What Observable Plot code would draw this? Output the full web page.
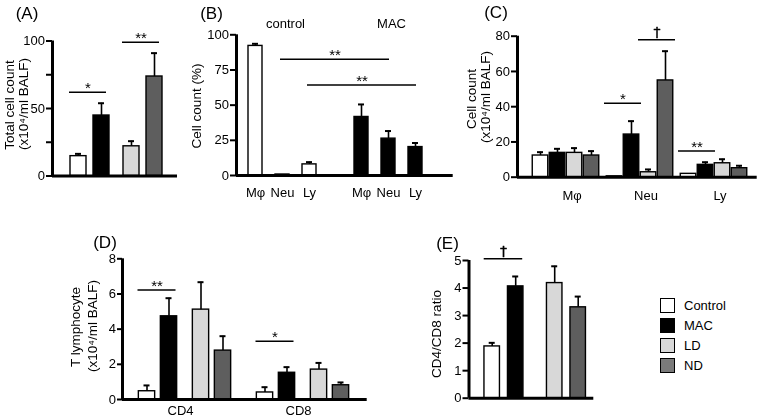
<!DOCTYPE html>
<html>
<head>
<meta charset="utf-8">
<script src="https://cdn.jsdelivr.net/npm/d3@7"></script>
<script src="https://cdn.jsdelivr.net/npm/@observablehq/plot@0.6"></script>
<style>
  html, body { margin: 0; padding: 0; background: #fff; }
  #fig { position: relative; width: 761px; height: 418px; overflow: hidden; background: #fff;
         font-family: "Liberation Sans", Arial, Helvetica, sans-serif; color: #000; }
  #fig svg { will-change: transform; }
  .letter { position: absolute; font-size: 17px; transform: translate(-50%, -50%); white-space: nowrap; }
  .ytitle { position: absolute; font-size: 13.5px; white-space: nowrap; line-height: 1;
            transform: translate(-50%, -50%) rotate(-90deg); }
  #legend { position: absolute; left: 660px; top: 295px; font-size: 13px; }
  #legend .row { display: flex; align-items: center; height: 20px; }
  #legend .sw { width: 13px; height: 13px; border: 1.6px solid #000; margin-right: 9px; }
  svg text.dag { fill: #000 !important; }
</style>
</head>
<body>
<div id="fig"></div>
<script>
// ---------------- data ----------------
const groups = ["Control", "MAC", "LD", "ND"];
const groupColors = ["#ffffff", "#000000", "#d8d8d8", "#5e5e5e"];
const legendColors = ["#ffffff", "#000000", "#d8d8d8", "#7a7a7a"];

// (A) total cell count (x10^4/ml BALF)
const totalMean = [14.7, 44.8, 22.0, 73.7];
const totalSem  = [1.7, 9.1, 3.8, 17.3];
const sigA = [["Control", "MAC", 62, "*"], ["LD", "ND", 99, "**"]];

// (B) cell count (%)
const cellTypes = ["Mφ", "Neu", "Ly"];
const pctGroups = ["control", "MAC"];
const pctControl    = [92.1, 0.7, 7.9];
const pctControlSem = [1.5, 0.0, 1.6];
const pctMac        = [41.6, 26.2, 20.2];
const pctMacSem     = [8.9, 5.4, 2.9];
const sigB = [["Neu", 82.6, "**"], ["Ly", 64.3, "**"]];

// (C) cell count (x10^4/ml BALF), per cell type
const cControl = [12.3, 0.5, 1.9];
const cControlSem = [1.9, 0.0, 0.0];
const cMac = [13.8, 24.2, 7.0];
const cMacSem = [2.3, 7.6, 1.5];
const cLd = [13.8, 2.8, 7.9];
const cLdSem = [2.7, 1.6, 2.3];
const cNd = [12.3, 54.9, 5.1];
const cNdSem = [2.5, 16.6, 1.4];
const sigC = [["Neu", "Control", "MAC", 42, "*"], ["Neu", "LD", "ND", 78, "\u2020"], ["Ly", "Control", "MAC", 14.8, "**"]];

// (D) T lymphocyte (x10^4/ml BALF)
const tTypes = ["CD4", "CD8"];
const tControl = [0.47, 0.40];
const tControlSem = [0.33, 0.30];
const tMac = [4.73, 1.52];
const tMacSem = [1.03, 0.32];
const tLd = [5.11, 1.70];
const tLdSem = [1.56, 0.38];
const tNd = [2.78, 0.81];
const tNdSem = [0.82, 0.16];
const sigD = [["CD4", "Control", "MAC", 6.23, "**"], ["CD8", "Control", "MAC", 3.31, "*"]];

// (E) CD4/CD8 ratio
const ratioMean = [1.88, 4.06, 4.18, 3.30];
const ratioSem  = [0.13, 0.36, 0.61, 0.39];
const sigE = [["Control", "MAC", 5.06, "\u2020"]];

// axis titles and panel letters
const yTitles = [
  ["Total cell count", 10, 105], ["(x10⁴/ml BALF)", 23.5, 104],
  ["Cell count (%)", 197, 106],
  ["Cell count", 472, 99], ["(x10⁴/ml BALF)", 485.5, 97],
  ["T lymphocyte", 76, 326.5], ["(x10⁴/ml BALF)", 93, 325.5],
  ["CD4/CD8 ratio", 436.5, 334]
];
const letters = [["(A)", 27, 14], ["(B)", 211.5, 14], ["(C)", 496, 13], ["(D)", 105, 243], ["(E)", 447.5, 244]];

// ---------------- drawing ----------------
const FONT = '"Liberation Sans", Arial, Helvetica, sans-serif';
const fig = document.getElementById("fig");

function place(node, left, top) {
  node.style.position = "absolute";
  node.style.left = left + "px";
  node.style.top = top + "px";
  fig.appendChild(node);
}
// paired layout: two pairs of bars with an extra gap between the pairs
const pairX = (i, first, step, gap) => first + step * i + (i >= 2 ? gap : 0);

function barPanel(o) {
  const fw = o.width - o.mL - o.mR;
  const sig = o.sig || [];
  const stars = sig.filter(d => d.label.includes("*"));
  const daggers = sig.filter(d => !d.label.includes("*"));
  const withErr = o.bars.filter(d => d.e > 0);
  const marks = [
    Plot.rect(o.bars, {x1: d => d.x - o.bw / 2, x2: d => d.x + o.bw / 2, y1: 0, y2: "v",
                       fill: "g", stroke: "#000", strokeWidth: 1.4}),
    Plot.ruleX(withErr, {x: "x", y1: "v", y2: d => d.v + d.e, stroke: "#000", strokeWidth: 1.6}),
    Plot.ruleY(withErr, {y: d => d.v + d.e, x1: d => d.x - 3, x2: d => d.x + 3, stroke: "#000", strokeWidth: 2}),
    Plot.ruleY(sig, {y: "y", x1: "x1", x2: "x2", stroke: "#000", strokeWidth: 1.5}),
    Plot.text(stars, {x: d => (d.x1 + d.x2) / 2, y: "y", text: "label", lineAnchor: "bottom",
                      fontSize: 15, dy: 1, fill: "#000"}),
    Plot.text(daggers, {x: d => (d.x1 + d.x2) / 2, y: "y", text: "label", lineAnchor: "bottom",
                        fontSize: 14, dy: -3, fill: "black", stroke: "black", strokeWidth: 0.4,
                        fontFamily: "DejaVu Sans", className: "dag"}),
    Plot.ruleY([0], {stroke: "#000", strokeWidth: 3}),
    Plot.ruleX([0], {stroke: "#000", strokeWidth: 3}),
    Plot.axisY({ticks: o.ticks, tickSize: o.tickSize ?? 6, tickPadding: 1.5, strokeWidth: 2,
                tickFormat: o.tickFormat ?? (d => String(d)), label: null, fontSize: 13}),
    ...(o.extra || [])
  ];
  const svg = Plot.plot({
    width: o.width, height: o.height,
    marginLeft: o.mL, marginRight: o.mR, marginTop: o.mT, marginBottom: o.mB,
    x: {domain: [0, fw], axis: null},
    y: {domain: o.yDomain, axis: null},
    color: {domain: groups, range: groupColors},
    style: {fontFamily: FONT, fontSize: "13px", color: "#000", background: "transparent", overflow: "visible"},
    marks
  });
  place(svg, o.left, o.top);
}

// ----- (A)
{
  const bars = groups.map((g, i) => ({g, x: pairX(i, 26, 23, 7), v: totalMean[i], e: totalSem[i]}));
  const xOf = g => bars.find(b => b.g === g).x;
  barPanel({
    left: 0, top: 0, width: 185, height: 205, mL: 52, mT: 40.5, mR: 8, mB: 29.5,
    yDomain: [0, 100], ticks: [0, 25, 50, 75, 100], tickFormat: d => (d % 50 === 0 ? String(d) : ""),
    bars, bw: 16,
    sig: sigA.map(([a, b, y, label]) => ({x1: xOf(a) - 9, x2: xOf(b) + 5, y, label}))
  });
}

// ----- (B)
{
  const means = [pctControl, pctMac], sems = [pctControlSem, pctMacSem];
  const bars = pctGroups.flatMap((pg, gi) => cellTypes.map((c, ci) => ({
    g: groups[gi], pg, c, x: 19 + 27 * ci + 106 * gi, v: means[gi][ci], e: sems[gi][ci]})));
  const xOf = (pg, c) => bars.find(b => b.pg === pg && b.c === c).x;
  barPanel({
    left: 185, top: 0, width: 275, height: 205, mL: 51, mT: 34.3, mR: 7.3, mB: 30,
    yDomain: [0, 100], ticks: [0, 25, 50, 75, 100],
    bars, bw: 14,
    sig: sigB.map(([c, y, label]) => ({x1: xOf("control", c) - 2, x2: xOf("MAC", c) + 1, y, label})),
    extra: [
      Plot.text(bars, {x: "x", y: 0, text: "c", dy: 17, lineAnchor: "middle", fontSize: 13}),
      Plot.text(pctGroups, {x: pg => xOf(pg, "Neu") + 3, y: 100, text: d => d, dy: -11,
                            lineAnchor: "middle", fontSize: 13})
    ]
  });
}

// ----- (C)
{
  const means = [cControl, cMac, cLd, cNd], sems = [cControlSem, cMacSem, cLdSem, cNdSem];
  const bars = cellTypes.flatMap((c, ci) => groups.map((g, gi) => ({
    g, c, x: 23 + 17 * gi + 74 * ci, v: means[gi][ci], e: sems[gi][ci]})));
  const xOf = (c, g) => bars.find(b => b.c === c && b.g === g).x;
  barPanel({
    left: 460, top: 0, width: 301, height: 205, mL: 57, mT: 35.7, mR: 4.3, mB: 28.3,
    yDomain: [0, 80], ticks: [0, 20, 40, 60, 80],
    bars, bw: 15.5,
    sig: sigC.map(([c, a, b, y, label]) => ({x1: xOf(c, a) - 10, x2: xOf(c, b) + 10, y, label})),
    extra: [
      Plot.text(cellTypes, {x: c => (xOf(c, "MAC") + xOf(c, "LD")) / 2, y: 0, text: d => d,
                            dx: 6, dy: 18.5, lineAnchor: "middle", fontSize: 13})
    ]
  });
}

// ----- (D)
{
  const means = [tControl, tMac, tLd, tNd], sems = [tControlSem, tMacSem, tLdSem, tNdSem];
  const bars = tTypes.flatMap((t, ti) => groups.map((g, gi) => ({
    g, t, x: pairX(gi, 24.5, 22, 10) + 118 * ti, v: means[gi][ti], e: sems[gi][ti]})));
  const xOf = (t, g) => bars.find(b => b.t === t && b.g === g).x;
  barPanel({
    left: 0, top: 205, width: 380, height: 213, mL: 122, mT: 53.3, mR: 13.3, mB: 19,
    yDomain: [0, 8], ticks: [0, 2, 4, 6, 8], tickSize: 5,
    bars, bw: 16.3,
    sig: sigD.map(([t, a, b, y, label]) => ({x1: xOf(t, a) - 9, x2: xOf(t, b) + 7, y, label})),
    extra: [
      Plot.text(tTypes, {x: t => (xOf(t, "MAC") + xOf(t, "LD")) / 2, y: 0, text: d => d,
                         dx: -4.5, dy: 11.5, lineAnchor: "middle", fontSize: 13})
    ]
  });
}

// ----- (E)
{
  const bars = groups.map((g, i) => ({g, x: pairX(i, 23.2, 23.5, 15.5), v: ratioMean[i], e: ratioSem[i]}));
  const xOf = g => bars.find(b => b.g === g).x;
  barPanel({
    left: 380, top: 205, width: 225, height: 213, mL: 88.5, mT: 55, mR: 11.7, mB: 20.3,
    yDomain: [0, 5], ticks: [0, 1, 2, 3, 4, 5],
    bars, bw: 15.5,
    sig: sigE.map(([a, b, y, label]) => ({x1: xOf(a) - 8, x2: xOf(b) + 7, y, label}))
  });
}

// ----- axis titles (rotated) and panel letters
yTitles.forEach(([t, x, y]) => {
  const d = document.createElement("div");
  d.className = "ytitle"; d.textContent = t;
  d.style.left = x + "px"; d.style.top = y + "px";
  fig.appendChild(d);
});
letters.forEach(([t, x, y]) => {
  const d = document.createElement("div");
  d.className = "letter"; d.textContent = t;
  d.style.left = x + "px"; d.style.top = y + "px";
  fig.appendChild(d);
});

// ----- legend
{
  const lg = document.createElement("div");
  lg.id = "legend";
  groups.forEach((g, i) => {
    const row = document.createElement("div");
    row.className = "row";
    const sw = document.createElement("div");
    sw.className = "sw"; sw.style.background = legendColors[i];
    const tx = document.createElement("span");
    tx.textContent = g;
    row.appendChild(sw); row.appendChild(tx);
    lg.appendChild(row);
  });
  fig.appendChild(lg);
}
</script>
</body>
</html>
